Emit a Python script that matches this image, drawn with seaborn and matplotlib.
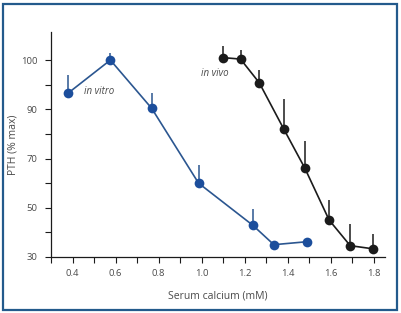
import matplotlib
matplotlib.use("Agg")
import matplotlib.pyplot as plt
from matplotlib.patches import Rectangle
import numpy as np
import pandas as pd
import seaborn as sns

# in vitro series (upper error only)
vitro_ca = [0.38, 0.576, 0.768, 0.986, 1.238, 1.336, 1.489]
vitro_pth = [93.3, 100.0, 90.2, 60.0, 42.9, 35.0, 36.2]
vitro_err = [3.6, 1.5, 3.1, 7.2, 6.4, 0.0, 0.0]

# in vivo series
vivo_ca = [1.099, 1.181, 1.268, 1.382, 1.480, 1.593, 1.691, 1.799]
vivo_pth = [100.5, 100.2, 95.4, 82.0, 66.1, 45.0, 34.6, 33.3]
vivo_err = [2.3, 1.8, 2.6, 10.1, 11.0, 8.0, 8.8, 6.1]

y_labels = [30, 50, 70, 90, 100]
y_minor = [40, 60, 80, 95]
x_major = [0.4, 0.6, 0.8, 1.0, 1.2, 1.4, 1.6, 1.8]
x_minor = [0.3, 0.5, 0.7, 0.9, 1.1, 1.3, 1.5, 1.7]

BLUE = "#1c4e9c"
BLUE_LINE = "#2b5690"
BLACK = "#1b1b1b"
TEXT = "#4a4a4a"

# the printed axis spaces 30/50/70/90/100 evenly
_vals = [0, 30, 50, 70, 90, 100, 200]
_pos = [-1.5, 0, 1, 2, 3, 4, 14]


def _fwd(v):
    return np.interp(v, _vals, _pos)


def _inv(p):
    return np.interp(p, _pos, _vals)


sns.set_style("ticks")
plt.rcParams['font.family'] = ['Open Sans', 'DejaVu Sans']

df = pd.concat([
    pd.DataFrame({'ca': vitro_ca, 'pth': vitro_pth, 'series': 'in vitro'}),
    pd.DataFrame({'ca': vivo_ca, 'pth': vivo_pth, 'series': 'in vivo'}),
])

fig = plt.figure(figsize=(4.02, 3.13), dpi=100)
ax = fig.add_axes([51 / 402, 56 / 313, 334.5 / 402, 225 / 313])
ax.set_yscale('function', functions=(_fwd, _inv))

ax.errorbar(vitro_ca, vitro_pth, yerr=[np.zeros(len(vitro_err)), vitro_err],
            fmt='none', ecolor=BLUE_LINE, elinewidth=1.1, capsize=0)
ax.errorbar(vivo_ca, vivo_pth, yerr=[np.zeros(len(vivo_err)), vivo_err],
            fmt='none', ecolor=BLACK, elinewidth=1.1, capsize=0)

sns.lineplot(data=df, x='ca', y='pth', hue='series', sort=False,
             palette={'in vitro': BLUE_LINE, 'in vivo': BLACK},
             marker='o', markersize=7, markeredgewidth=0, linewidth=1.2,
             legend=False, ax=ax)
for line, c in zip(ax.get_lines(), [BLUE, BLACK]):
    line.set_markerfacecolor(c)

ax.text(0.452, 93.7, 'in vitro', style='italic', fontsize=7, color=TEXT, va='center')
ax.text(0.996, 97.3, 'in vivo', style='italic', fontsize=7, color=TEXT, va='center')

ax.set_xlim(0.3, 1.855)
ax.set_ylim(30, 105.7)
ax.set_xticks(x_major)
ax.set_xticks(x_minor, minor=True)
ax.set_xticklabels([f"{v:.1f}" for v in x_major])
ax.set_yticks(y_labels)
ax.set_yticks(y_minor, minor=True)
ax.set_yticklabels([str(v) for v in y_labels])
ax.yaxis.set_minor_formatter(plt.NullFormatter())

ax.tick_params(which='both', direction='out', length=4, width=0.8, color=BLACK,
               labelsize=6.8, labelcolor=TEXT)
ax.tick_params(axis='x', pad=5)
ax.tick_params(axis='y', pad=6)
for s in ['left', 'bottom']:
    ax.spines[s].set_linewidth(0.9)
    ax.spines[s].set_color(BLACK)
sns.despine(ax=ax)

ax.set_xlabel('Serum calcium (mM)', fontsize=7.5, color=TEXT, labelpad=9)
ax.set_ylabel('PTH (% max)', fontsize=7.5, color=TEXT, labelpad=1.5)

fig.patches.append(Rectangle((3.5 / 402, 3.5 / 313), 394 / 402, 306 / 313,
                             transform=fig.transFigure, fill=False,
                             edgecolor='#235a8c', linewidth=1.6))

fig.savefig('out.png', dpi=100)
